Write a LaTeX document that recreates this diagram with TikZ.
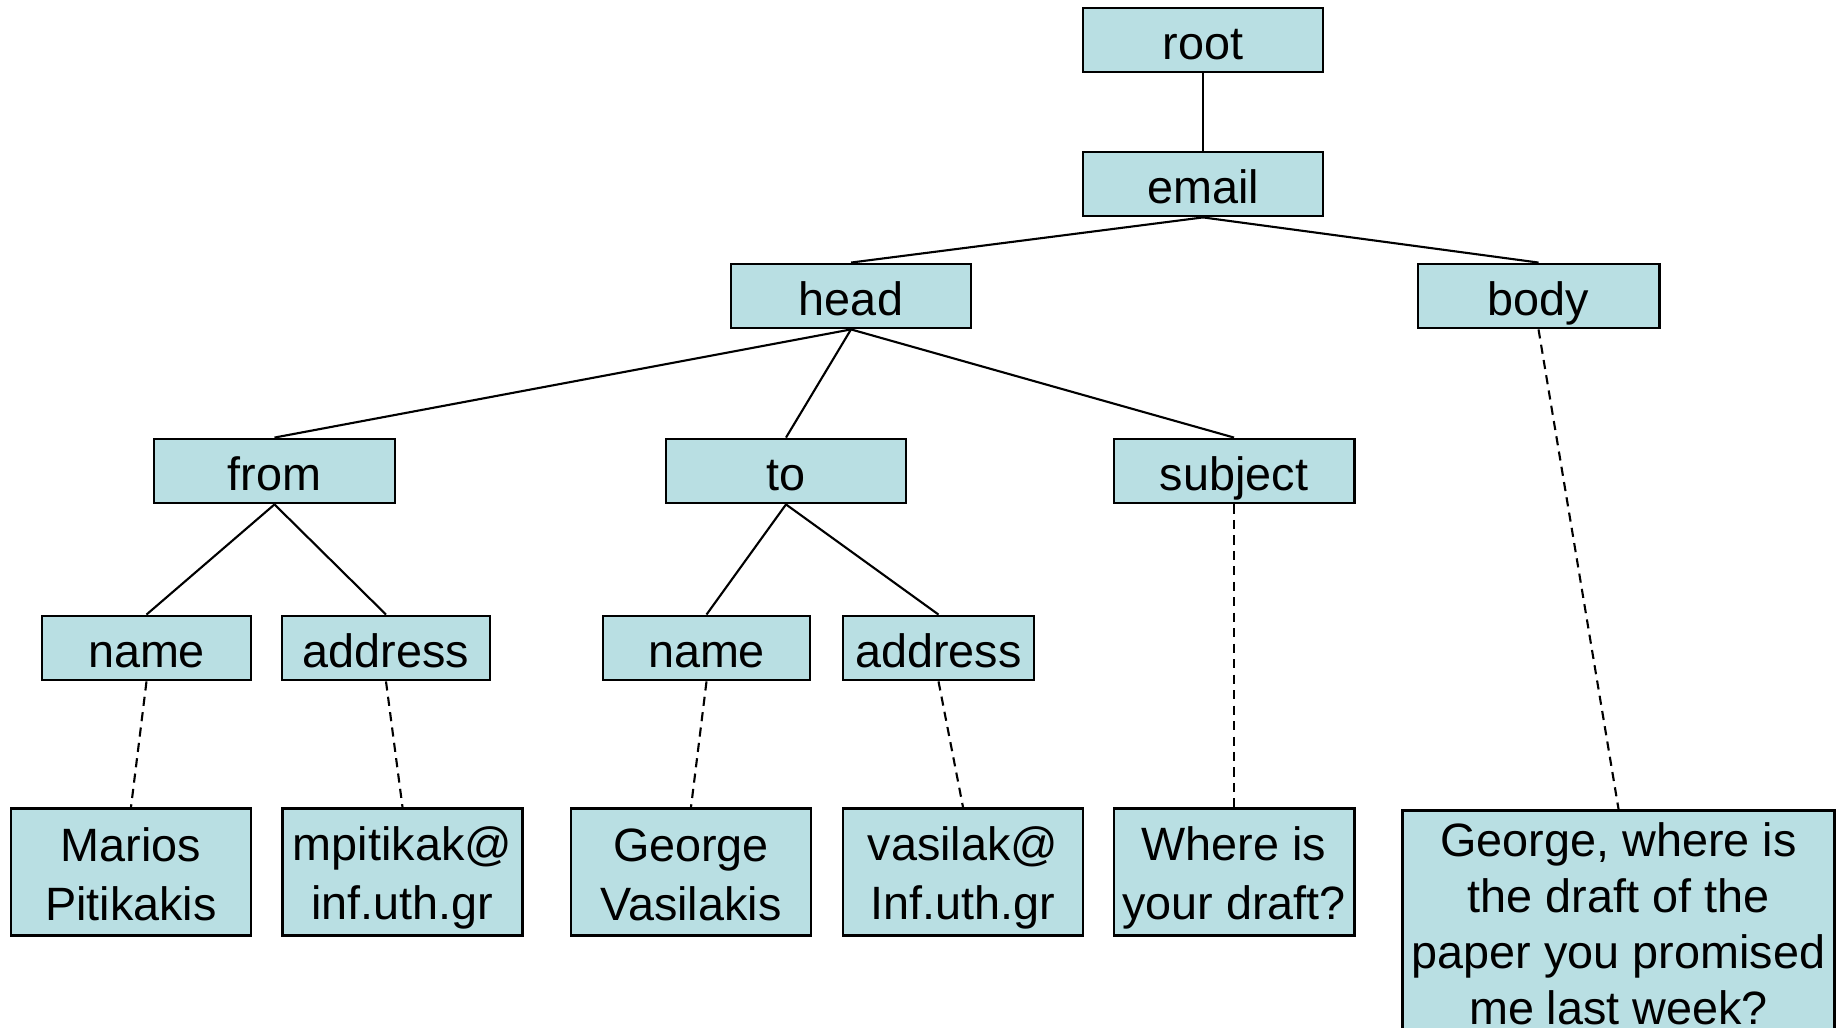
\documentclass[tikz,border=0pt]{standalone}
\usepackage{fontspec}
\setmainfont{Liberation Sans}
\usepackage{xcolor}
\definecolor{boxblue}{RGB}{185,223,227}
\newcommand\lnstrut{\vrule width0pt height13pt depth2pt}
\newcommand\lastlnstrut{\vrule width0pt height13pt depth5pt}

\begin{document}
\begin{tikzpicture}[x=0.01cm,y=-0.01cm,
    tag/.style={draw,line width=0.8pt,fill=boxblue,inner sep=0pt,
      minimum height=0.64cm,font=\fontsize{13.3}{16.7}\selectfont},
    elem/.style={tag,text height=13pt,text depth=2pt},
    leaf/.style={tag,minimum height=1.27cm,minimum width=2.4cm,align=center},
    edge/.style={line width=0.6pt},
    hole/.style={line width=0.6pt,dash pattern=on 2.6pt off 1.8pt}]
  \useasboundingbox (0,0) rectangle (1843,1028);

  % element nodes
  \node (rt) [elem,minimum width=2.4cm] at (1203,40) {root};
  \node (em) [elem,minimum width=2.4cm] at (1203,184) {email};
  \node (hd) [elem,minimum width=2.4cm] at (851,296) {head};
  \node (bd) [elem,minimum width=2.41cm] at (1538.5,296) {body};
  \node (fr) [elem,minimum width=2.41cm] at (274.5,471) {from};
  \node (to) [elem,minimum width=2.4cm] at (786,471) {to};
  \node (sj) [elem,minimum width=2.4cm] at (1234,471) {subject};
  \node (fn) [elem,minimum width=2.09cm] at (146.5,648) {name};
  \node (fa) [elem,minimum width=2.08cm] at (386,648) {address};
  \node (tn) [elem,minimum width=2.07cm] at (706.5,648) {name};
  \node (ta) [elem,minimum width=1.91cm] at (938.5,648) {address};

  % text values
  \node (fnv) [leaf] at (131,872) {\lnstrut Marios\\\lnstrut Pitikakis};
  \node (fav) [leaf] at (402.5,872) {\lnstrut mpitikak@\\\lnstrut inf.uth.gr};
  \node (tnv) [leaf] at (691,872) {\lnstrut George\\\lnstrut Vasilakis};
  \node (tav) [leaf] at (963,872) {\lnstrut vasilak@\\\lnstrut Inf.uth.gr};
  \node (sjv) [leaf] at (1234,872) {\lnstrut Where is\\\lnstrut your draft?};
  \node (bdv) [tag,anchor=north,minimum width=4.31cm,align=center,
    font=\fontsize{13.3}{16}\selectfont] at (1618.5,809)
    {\lnstrut George, where is\\\lnstrut the draft of the\\
     \lnstrut paper you promised\\\lastlnstrut me last week?};

  \draw[edge] (rt.south) -- (em.north);
  \draw[edge] (em.south) -- (hd.north);
  \draw[edge] (em.south) -- (bd.north);
  \draw[edge] (hd.south) -- (fr.north);
  \draw[edge] (hd.south) -- (to.north);
  \draw[edge] (hd.south) -- (sj.north);
  \draw[edge] (fr.south) -- (fn.north);
  \draw[edge] (fr.south) -- (fa.north);
  \draw[edge] (to.south) -- (tn.north);
  \draw[edge] (to.south) -- (ta.north);

  \draw[hole] (fn.south) -- (fnv.north);
  \draw[hole] (fa.south) -- (fav.north);
  \draw[hole] (tn.south) -- (tnv.north);
  \draw[hole] (ta.south) -- (tav.north);
  \draw[hole] (sj.south) -- (sjv.north);
  \draw[hole] (bd.south) -- (bdv.north);
\end{tikzpicture}
\end{document}
